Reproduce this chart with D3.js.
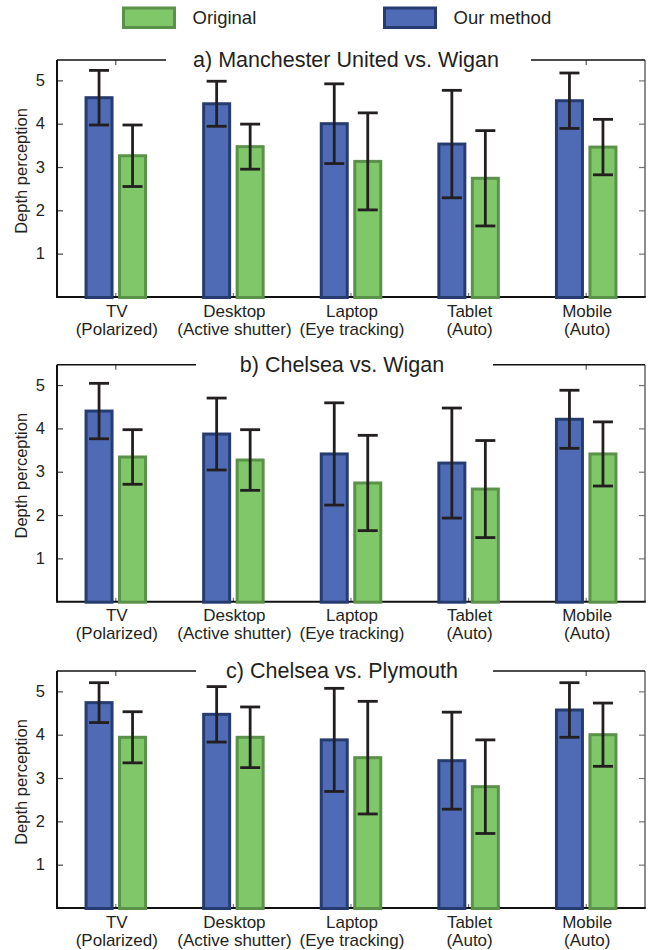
<!DOCTYPE html>
<html>
<head>
<meta charset="utf-8">
<script src="https://cdn.jsdelivr.net/npm/d3@7"></script>
<style>
  html, body { margin: 0; padding: 0; background: #fff; }
  text { font-family: "Liberation Sans", Arial, Helvetica, sans-serif; fill: #231f20; }
</style>
</head>
<body>
<svg id="chart" width="654" height="950"></svg>
<script>
// ---------------- data ----------------
const categories = ["TV", "Desktop", "Laptop", "Tablet", "Mobile"];
const subLabels = ["(Polarized)", "(Active shutter)", "(Eye tracking)", "(Auto)", "(Auto)"];
const seriesNames = ["Our method", "Original"];
const panelTitles = ["a) Manchester United vs. Wigan", "b) Chelsea vs. Wigan", "c) Chelsea vs. Plymouth"];
const yTicks = [1, 2, 3, 4, 5];
const yLabel = "Depth perception";

// panel a
const oursMeanA = [4.60, 4.46, 4.00, 3.53, 4.53];
const oursErrA  = [0.63, 0.52, 0.92, 1.24, 0.64];
const origMeanA = [3.26, 3.47, 3.13, 2.74, 3.46];
const origErrA  = [0.71, 0.52, 1.12, 1.10, 0.64];
// panel b
const oursMeanB = [4.40, 3.87, 3.41, 3.20, 4.21];
const oursErrB  = [0.64, 0.83, 1.18, 1.27, 0.67];
const origMeanB = [3.34, 3.27, 2.74, 2.60, 3.41];
const origErrB  = [0.63, 0.70, 1.10, 1.12, 0.74];
// panel c
const oursMeanC = [4.74, 4.47, 3.88, 3.40, 4.57];
const oursErrC  = [0.46, 0.64, 1.19, 1.12, 0.63];
const origMeanC = [3.94, 3.94, 3.47, 2.80, 4.00];
const origErrC  = [0.59, 0.70, 1.30, 1.08, 0.73];

const panels = [
  { title: panelTitles[0], ours: oursMeanA, oursErr: oursErrA, orig: origMeanA, origErr: origErrA },
  { title: panelTitles[1], ours: oursMeanB, oursErr: oursErrB, orig: origMeanB, origErr: origErrB },
  { title: panelTitles[2], ours: oursMeanC, oursErr: oursErrC, orig: origMeanC, origErr: origErrC }
];

// ---------------- layout / style ----------------
const panelTops = [60, 364.7, 671];
const titleGaps = [[166, 531], [196, 493], [196, 493]];
const plotH = 237, left = 57, right = 645;
const yMax = 5.47;
const colors = {
  "Our method": { fill: "#4f6bb5", stroke: "#263c70" },
  "Original":   { fill: "#80c76a", stroke: "#5a9249" }
};
const ink = "#231f20";

const svg = d3.select("#chart");

// legend
const legendItems = [
  { name: "Original", x: 123.5 },
  { name: "Our method", x: 384.5 }
];
const lg = svg.append("g");
legendItems.forEach(it => {
  lg.append("rect").attr("x", it.x).attr("y", 8).attr("width", 51).attr("height", 19.5)
    .attr("fill", colors[it.name].fill).attr("stroke", colors[it.name].stroke).attr("stroke-width", 3);
  lg.append("text").attr("x", it.x + 69).attr("y", 23.5).attr("font-size", 18.5).text(it.name);
});

panels.forEach((p, pi) => {
  const top = panelTops[pi];
  const bottom = top + plotH;
  const g = svg.append("g");

  const x = d3.scaleBand().domain(categories).range([left, right]).padding(0);
  const xs = d3.scaleBand().domain(seriesNames).range([-33.5, 33.5]).padding(0);
  const y = d3.scaleLinear().domain([0, yMax]).range([bottom, top]);

  // left axis (ticks inward)
  const la = g.append("g").attr("transform", `translate(${left},0)`)
    .call(d3.axisLeft(y).tickValues(yTicks).tickSizeInner(-6).tickSizeOuter(0).tickPadding(12).tickFormat(d3.format("d")));
  la.select(".domain").remove();
  la.selectAll(".tick line").attr("stroke", "#444").attr("stroke-width", 1.2);
  la.selectAll(".tick text").attr("font-size", 16.5).attr("fill", ink)
    .style("font-family", '"Liberation Sans", Arial, sans-serif');

  // right axis (ticks inward, no labels)
  const ra = g.append("g").attr("transform", `translate(${right},0)`)
    .call(d3.axisLeft(y).tickValues(yTicks).tickSizeInner(6).tickSizeOuter(0).tickFormat(""));
  ra.select(".domain").remove();
  ra.selectAll(".tick line").attr("stroke", "#777").attr("stroke-width", 1.2);

  // bottom axis ticks (inward)
  const ba = g.append("g").attr("transform", `translate(0,${bottom})`)
    .call(d3.axisBottom(x).tickSizeInner(-4).tickSizeOuter(0).tickFormat(""));
  ba.select(".domain").remove();
  ba.selectAll(".tick line").attr("stroke", "#777").attr("stroke-width", 1.2);

  // top axis ticks (inward)
  const ta = g.append("g").attr("transform", `translate(0,${top})`)
    .call(d3.axisTop(x).tickSizeInner(-5).tickSizeOuter(0).tickFormat(""));
  ta.select(".domain").remove();
  ta.selectAll(".tick line").attr("stroke", "#555").attr("stroke-width", 1.2);

  // frame
  g.append("line").attr("x1", right).attr("x2", right).attr("y1", top).attr("y2", bottom)
    .attr("stroke", "#666").attr("stroke-width", 1.5);
  g.append("line").attr("x1", left).attr("x2", right).attr("y1", top).attr("y2", top)
    .attr("stroke", "#111").attr("stroke-width", 1.5);
  g.append("line").attr("x1", left).attr("x2", left).attr("y1", top).attr("y2", bottom + 1)
    .attr("stroke", "#111").attr("stroke-width", 2);
  g.append("line").attr("x1", left).attr("x2", right + 0.75).attr("y1", bottom).attr("y2", bottom)
    .attr("stroke", "#111").attr("stroke-width", 2);

  // title with white gap
  const gap = titleGaps[pi];
  g.append("rect").attr("x", gap[0]).attr("y", top - 4).attr("width", gap[1] - gap[0]).attr("height", 10)
    .attr("fill", "#fff");
  g.append("text").attr("x", (gap[0] + gap[1]) / 2 - 2.5).attr("y", top + 7)
    .attr("text-anchor", "middle").attr("font-size", 21.5).text(p.title);

  // y label
  g.append("text")
    .attr("transform", `translate(27,${top + 111}) rotate(-90)`)
    .attr("text-anchor", "middle").attr("font-size", 16.5).text(yLabel);

  // category labels
  categories.forEach((c, i) => {
    const cx = x(c) + x.bandwidth() / 2;
    g.append("text").attr("x", cx + 1).attr("y", bottom + 19.5).attr("text-anchor", "middle")
      .attr("font-size", 17).text(c);
    g.append("text").attr("x", cx + 1).attr("y", bottom + 37.5).attr("text-anchor", "middle")
      .attr("font-size", 17).text(subLabels[i]);
  });

  // bars + error bars
  const rows = [];
  categories.forEach((c, i) => {
    rows.push({ cat: c, s: "Our method", m: p.ours[i], e: p.oursErr[i] });
    rows.push({ cat: c, s: "Original", m: p.orig[i], e: p.origErr[i] });
  });
  const barW = 26;
  const cxOf = d => x(d.cat) + x.bandwidth() / 2 + xs(d.s) + xs.bandwidth() / 2;

  g.selectAll("rect.bar").data(rows).join("rect").attr("class", "bar")
    .attr("x", d => cxOf(d) - barW / 2)
    .attr("y", d => y(d.m))
    .attr("width", barW)
    .attr("height", d => y(0) - y(d.m) + 0.5)
    .attr("fill", d => colors[d.s].fill)
    .attr("stroke", d => colors[d.s].stroke)
    .attr("stroke-width", 3);

  const eb = g.selectAll("g.err").data(rows).join("g").attr("class", "err")
    .attr("stroke", ink).attr("stroke-width", 2.8);
  eb.append("line").attr("x1", cxOf).attr("x2", cxOf)
    .attr("y1", d => y(d.m + d.e)).attr("y2", d => y(d.m - d.e));
  eb.append("line").attr("x1", d => cxOf(d) - 10).attr("x2", d => cxOf(d) + 10)
    .attr("y1", d => y(d.m + d.e)).attr("y2", d => y(d.m + d.e));
  eb.append("line").attr("x1", d => cxOf(d) - 10).attr("x2", d => cxOf(d) + 10)
    .attr("y1", d => y(d.m - d.e)).attr("y2", d => y(d.m - d.e));
});
</script>
</body>
</html>
